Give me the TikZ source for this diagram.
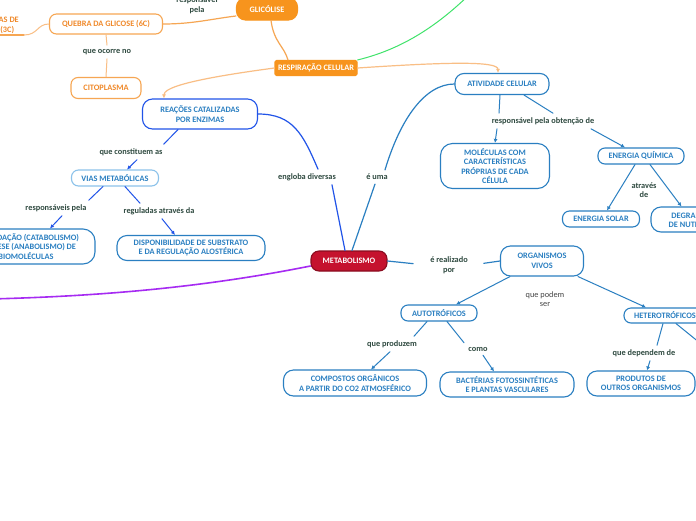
\documentclass[tikz,border=0pt]{standalone}
\usepackage{fontspec}
\setmainfont{Carlito}
\usetikzlibrary{arrows.meta}

\definecolor{laranja}{HTML}{F7941D}
\definecolor{laranjaln}{HTML}{F6A653}
\definecolor{laranjatx}{HTML}{F0892A}
\definecolor{laranjaclaro}{HTML}{F9BE85}
\definecolor{azul}{HTML}{2A7FC1}
\definecolor{azulforte}{HTML}{2154E8}
\definecolor{azulclaro}{HTML}{8CC2EA}
\definecolor{verdetx}{HTML}{2F4A40}
\definecolor{carmim}{HTML}{C5122E}
\definecolor{verde}{HTML}{3FE36A}
\definecolor{roxo}{HTML}{A62BF2}
\definecolor{cinza}{HTML}{444444}

\newcommand{\mapfont}{\fontsize{8.3}{9.6}\selectfont\bfseries}
\newcommand{\rotfont}{\fontsize{8.3}{9.6}\selectfont\bfseries}
\newcommand{\rotfontleve}{\fontsize{8.3}{9.6}\selectfont}

\begin{document}
\begin{tikzpicture}[x=1pt,y=-1pt,>={Latex[length=4pt,width=4pt]},line cap=round,line join=round,
  tema/.style={draw=#1,line width=1.1pt,fill=white,text=#1,font=\mapfont,align=center,
    rounded corners=7pt,inner sep=2pt},
  cheio/.style={draw=#1,line width=1.1pt,fill=#1,text=white,font=\mapfont,align=center,
    rounded corners=7pt,inner sep=2pt},
  rotulo/.style={text=verdetx,font=\rotfont,align=center,inner sep=4pt},
  liga/.style={draw=#1,line width=1pt}]
  \useasboundingbox (0,0) rectangle (696,520);
  \clip (0,0) rectangle (696,520);
  \fill[white] (0,0) rectangle (696,520);

  % ramo laranja
  \node[cheio=laranja,minimum width=61,minimum height=22,rounded corners=9pt] (glic) at (267,9) {GLICÓLISE};
  \node[tema=laranjaln,text=laranjatx,minimum width=113,minimum height=20] (quebra) at (106,24) {QUEBRA DA GLICOSE (6C)};
  \node[tema=laranjaln,text=laranjatx,minimum width=70,minimum height=21] (cito) at (106,88) {CITOPLASMA};
  \node[text=laranjatx,font=\mapfont,align=center,inner sep=1pt,anchor=south east] (piru) at (20,35) {2 MOLÉCULAS DE\\PIRUVATO (3C)};
  \node[cheio=laranja,minimum width=82,minimum height=15,rounded corners=1.5pt] (resp) at (316,68) {RESPIRAÇÃO CELULAR};
  \node[rotulo] (pela) at (197,5) {responsável\\pela};
  \node[rotulo] (ocorre) at (107,52) {que ocorre no};

  % ramo atividade celular
  \node[tema=azul,minimum width=94,minimum height=21,rounded corners=9pt] (ativ) at (502,84) {ATIVIDADE CELULAR};
  \node[tema=azul,minimum width=109,minimum height=45,rounded corners=12pt] (mol) at (495,166) {MOLÉCULAS COM\\CARACTERÍSTICAS\\PRÓPRIAS DE CADA\\CÉLULA};
  \node[tema=azul,minimum width=86,minimum height=16] (enq) at (641,156) {ENERGIA QUÍMICA};
  \node[tema=azul,minimum width=77,minimum height=16] (sol) at (601,219) {ENERGIA SOLAR};
  \node[tema=azul,minimum width=90,minimum height=25,rounded corners=10pt] (degr) at (696,219.5) {DEGRADAÇÃO\\DE NUTRIENTES};
  \node[rotulo] (obt) at (543,121) {responsável pela obtenção de};
  \node[rotulo] (atr) at (644,190) {através\\de};
  \node[rotulo] (eum) at (377,177) {é uma};

  % ramo reacoes
  \node[rotulo] (engl) at (307,177) {engloba diversas};
  \node[tema=azulforte,text=azul,minimum width=115,minimum height=30,rounded corners=10pt] (reac) at (200,114) {REAÇÕES CATALIZADAS\\POR ENZIMAS};
  \node[tema=azulclaro,text=azul,minimum width=87,minimum height=16] (vias) at (115,178) {VIAS METABÓLICAS};
  \node[rotulo] (cons) at (131,152) {que constituem as};
  \node[rotulo] (resl) at (56,208) {responsáveis pela};
  \node[rotulo] (regl) at (159,211) {reguladas através da};
  \node[tema=azul,minimum width=138,minimum height=35,rounded corners=12pt] (degs) at (26,246.5) {DEGRADAÇÃO (CATABOLISMO)\\E SÍNTESE (ANABOLISMO) DE\\BIOMOLÉCULAS};
  \node[tema=azul,minimum width=148,minimum height=25,rounded corners=10pt] (disp) at (191,248) {DISPONIBILIDADE DE SUBSTRATO\\E DA REGULAÇÃO ALOSTÉRICA};

  % centro e organismos
  \node[cheio=carmim,draw=carmim!70!black,minimum width=76,minimum height=20,rounded corners=8pt] (meta) at (349,261) {METABOLISMO};
  \node[rotulo] (real) at (449,265) {é realizado\\por};
  \node[tema=azul,minimum width=83,minimum height=30,rounded corners=10pt] (org) at (542,261) {ORGANISMOS\\VIVOS};
  \node[rotulo,font=\rotfontleve,text=cinza] (podem) at (545,299) {que podem\\ser};
  \node[tema=azul,minimum width=76,minimum height=16] (auto) at (439,313) {AUTOTRÓFICOS};
  \node[tema=azul,minimum width=82,minimum height=15] (het) at (665,315.5) {HETEROTRÓFICOS};
  \node[rotulo] (prod) at (392,344) {que produzem};
  \node[rotulo] (como) at (478,349) {como};
  \node[rotulo] (dep) at (644,353) {que dependem de};
  \node[tema=azul,minimum width=143,minimum height=26,rounded corners=10pt] (comp) at (355,383) {COMPOSTOS ORGÂNICOS\\A PARTIR DO CO2 ATMOSFÉRICO};
  \node[tema=azul,minimum width=134,minimum height=25,rounded corners=10pt] (bact) at (507,384.5) {BACTÉRIAS FOTOSSINTÉTICAS\\E PLANTAS VASCULARES};
  \node[tema=azul,minimum width=108,minimum height=25,rounded corners=10pt] (prodo) at (641,383.5) {PRODUTOS DE\\OUTROS ORGANISMOS};

  \coordinate (verdefim) at (474,-10);
  \coordinate (roxofim) at (-10,299);
  \coordinate (hetfim) at (716,356);

  % ligacoes laranja
  \draw[laranjaln,line width=1.2pt] (piru.south west) -- ([xshift=4pt]piru.south east);
  \draw[liga=laranjaclaro] ([xshift=4pt]piru.south east) .. controls +(14,0) and +(-12,0) .. (quebra.west);
  \draw[liga=laranjaln,line width=1.2pt] (quebra.east) .. controls +(30,0) and +(-25,3) .. ([yshift=-7pt]glic.west);
  \draw[liga=laranjaclaro] (quebra.south) -- (ocorre.north);
  \draw[liga=laranjaclaro] (ocorre.south) -- (cito.north);
  \draw[liga=laranjaln,line width=1.2pt] ([xshift=4pt]glic.south) .. controls +(3,22) and +(-4,-14) .. ([xshift=-28pt]resp.north);
  \draw[liga=laranjaclaro,->,line width=1.2pt] (resp.west) .. controls +(-90,12) and +(0,-10) .. ([xshift=22pt]reac.north west);
  \draw[liga=laranjaclaro,->,line width=1.2pt] (resp.east) .. controls +(90,-6) and +(0,-12) .. ([xshift=-4pt]ativ.north);
  \draw[liga=verde] (resp.north east) .. controls +(50,-12) and +(-30,30) .. (verdefim);
  \draw[roxo,line width=1.6pt] ([yshift=-5pt]meta.west) .. controls +(-100,20) and +(120,-3) .. (roxofim);

  % ligacoes azuis
  \draw[liga=azulforte,line width=1.2pt] ([xshift=-4pt]meta.north) -- ([xshift=-8pt]engl.south east);
  \draw[liga=azulforte,line width=1.2pt] ([xshift=11pt]engl.north) .. controls +(-15,-35) and +(35,0) .. (reac.east);
  \draw[liga=azul,line width=1.2pt] ([xshift=3pt]meta.north) -- ([xshift=-2pt]eum.south);
  \draw[liga=azul,line width=1.2pt] ([xshift=8pt]eum.north) .. controls +(15,-50) and +(-30,0) .. (ativ.west);
  \draw[liga=azul,line width=1.2pt,shorten >=13pt] (meta.east) -- (real.west);
  \draw[liga=azul,line width=1.2pt,shorten <=12pt] (real.east) -- (org.west);

  \draw[liga=azul] ([xshift=-2pt]ativ.south) -- ([xshift=-44pt]obt.north);
  \draw[liga=azul,->] ([xshift=-46pt]obt.south) -- (mol.north);
  \draw[liga=azul] ([xshift=22pt]ativ.south) -- ([xshift=10pt]obt.north);
  \draw[liga=azul,->] ([xshift=48pt]obt.south) -- ([xshift=-16pt]enq.north);
  \draw[liga=azul,->] ([xshift=-6pt]enq.south) -- ([xshift=6pt]sol.north);
  \draw[liga=azul,->] ([xshift=9pt]enq.south) -- ([xshift=31pt]degr.north west);

  \draw[liga=azulforte] ([xshift=-22pt]reac.south) -- ([xshift=-3pt]cons.north east);
  \draw[liga=azulforte,->] ([xshift=6pt]cons.south) -- ([xshift=12pt]vias.north);
  \draw[liga=azulforte] ([xshift=-12pt]vias.south) -- ([xshift=-2pt]resl.north east);
  \draw[liga=azulforte,->] ([xshift=6pt]resl.south) -- ([xshift=24pt]degs.north);
  \draw[liga=azulforte] ([xshift=10pt]vias.south) -- ([xshift=-19pt]regl.north);
  \draw[liga=azulforte,->] ([xshift=3pt]regl.south) -- ([xshift=-16pt]disp.north);

  \draw[liga=azul,->] ([xshift=-32pt]org.south) -- ([xshift=17pt]auto.north);
  \draw[liga=azul,->] ([xshift=36pt]org.south) -- ([xshift=-19pt]het.north);
  \draw[liga=azul] ([xshift=-12pt]auto.south) -- ([xshift=22pt]prod.north);
  \draw[liga=azul,->] ([xshift=-2pt]prod.south) -- ([xshift=16pt]comp.north);
  \draw[liga=azul] ([xshift=8pt]auto.south) -- ([xshift=-14pt]como.north);
  \draw[liga=azul,->] ([xshift=5pt]como.south) -- ([xshift=-13pt]bact.north);
  \draw[liga=azul] ([xshift=-2pt]het.south) -- ([xshift=13pt]dep.north);
  \draw[liga=azul,->] ([xshift=6pt]dep.south) -- ([xshift=6pt]prodo.north);
  \draw[liga=azul] ([xshift=11pt]het.south) -- (hetfim);
\end{tikzpicture}
\end{document}
